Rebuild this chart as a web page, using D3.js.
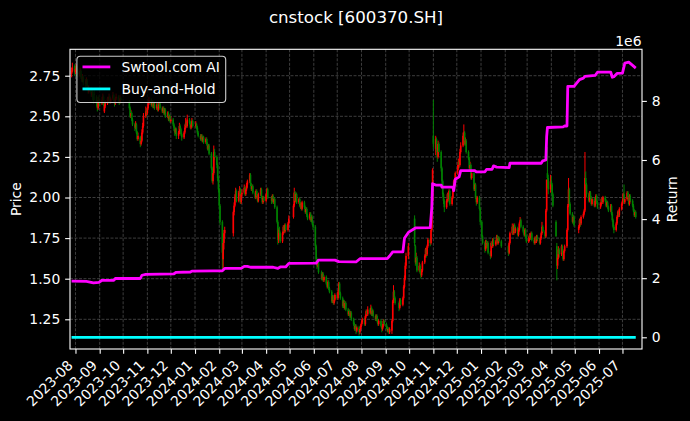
<!DOCTYPE html>
<html><head><meta charset="utf-8">
<script src="https://cdn.jsdelivr.net/npm/d3@7"></script>
<style>
body{margin:0;background:#000;}
svg{display:block;font-family:"DejaVu Sans",sans-serif;}
</style>
</head><body>
<svg id="c" width="690" height="421"></svg>
<script>
// ---------------- DATA ----------------
const chartTitle = "cnstock [600370.SH]";
const seriesNames = ["Swtool.com AI", "Buy-and-Hold"];
const firstDay = "2023-07-27", lastDay = "2025-07-18";
const holidays = ["2023-09-29","2023-10-02","2023-10-03","2023-10-04","2023-10-05","2023-10-06",
 "2024-01-01","2024-02-09","2024-02-12","2024-02-13","2024-02-14","2024-02-15","2024-02-16",
 "2024-04-04","2024-04-05","2024-05-01","2024-05-02","2024-05-03","2024-06-10","2024-09-16","2024-09-17",
 "2024-10-01","2024-10-02","2024-10-03","2024-10-04","2024-10-07",
 "2025-01-01","2025-01-28","2025-01-29","2025-01-30","2025-01-31","2025-02-03","2025-02-04",
 "2025-04-04","2025-05-01","2025-05-02","2025-05-05","2025-06-02"];
// daily [open, high, low, close], one row per trading day
const ohlc = [
[2.76,2.80,2.74,2.78],[2.78,2.83,2.77,2.80],[2.81,2.82,2.75,2.77],
[2.77,2.81,2.76,2.79],[2.79,2.82,2.77,2.80],[2.80,2.81,2.75,2.77],[2.77,2.79,2.74,2.76],[2.75,2.80,2.74,2.78],
[2.78,2.79,2.73,2.75],[2.75,2.76,2.71,2.73],[2.72,2.76,2.71,2.74],[2.74,2.75,2.69,2.71],[2.71,2.73,2.68,2.70],
[2.70,2.74,2.69,2.72],[2.72,2.73,2.66,2.68],[2.68,2.69,2.64,2.66],[2.65,2.69,2.64,2.67],[2.67,2.68,2.62,2.64],
[2.63,2.67,2.62,2.65],[2.65,2.66,2.60,2.62],[2.62,2.63,2.58,2.60],[2.64,2.66,2.60,2.63],[2.62,2.63,2.56,2.58],
[2.58,2.59,2.53,2.55],[2.55,2.62,2.54,2.60],[2.60,2.63,2.57,2.59],
[2.59,2.61,2.56,2.58],[2.58,2.62,2.57,2.60],[2.60,2.64,2.59,2.62],[2.62,2.63,2.56,2.57],[2.53,2.58,2.52,2.56],
[2.56,2.60,2.55,2.58],[2.58,2.62,2.57,2.61],[2.61,2.62,2.58,2.60],[2.60,2.64,2.59,2.62],[2.62,2.63,2.58,2.59],
[2.59,2.62,2.58,2.61],[2.61,2.65,2.60,2.63],[2.63,2.64,2.59,2.60],[2.60,2.61,2.56,2.58],[2.58,2.62,2.57,2.61],
[2.61,2.64,2.60,2.62],[2.62,2.63,2.59,2.60],[2.60,2.61,2.57,2.59],[2.59,2.63,2.58,2.61],[2.61,2.62,2.58,2.60],
[2.59,2.60,2.54,2.55],[2.55,2.56,2.49,2.50],[2.50,2.54,2.49,2.52],[2.52,2.53,2.47,2.48],[2.48,2.49,2.44,2.45],
[2.45,2.46,2.41,2.43],[2.43,2.47,2.42,2.45],[2.45,2.46,2.39,2.40],[2.40,2.41,2.35,2.36],[2.36,2.40,2.35,2.38],
[2.37,2.38,2.31,2.33],[2.33,2.37,2.32,2.35],[2.35,2.42,2.34,2.40],[2.40,2.46,2.39,2.44],[2.44,2.52,2.43,2.50],
[2.50,2.56,2.49,2.53],[2.53,2.55,2.50,2.52],
[2.52,2.56,2.51,2.55],[2.55,2.59,2.54,2.58],[2.58,2.62,2.57,2.60],[2.60,2.61,2.56,2.57],[2.57,2.60,2.56,2.59],
[2.59,2.60,2.55,2.56],[2.56,2.59,2.55,2.58],[2.58,2.59,2.54,2.55],[2.55,2.58,2.54,2.57],[2.57,2.58,2.53,2.54],
[2.54,2.57,2.53,2.56],[2.56,2.59,2.55,2.58],[2.58,2.59,2.54,2.55],[2.55,2.56,2.52,2.53],[2.53,2.56,2.52,2.55],
[2.55,2.56,2.51,2.52],[2.52,2.55,2.51,2.54],[2.54,2.55,2.49,2.50],[2.50,2.53,2.49,2.52],[2.52,2.53,2.47,2.48],
[2.48,2.51,2.47,2.50],[2.50,2.51,2.46,2.47],
[2.47,2.50,2.46,2.48],[2.48,2.49,2.44,2.45],[2.45,2.46,2.41,2.43],[2.43,2.44,2.38,2.40],[2.40,2.43,2.39,2.42],
[2.42,2.43,2.36,2.38],[2.38,2.41,2.36,2.40],[2.40,2.46,2.39,2.44],[2.44,2.45,2.41,2.42],[2.42,2.43,2.38,2.39],
[2.39,2.40,2.35,2.37],[2.37,2.41,2.36,2.40],[2.40,2.45,2.39,2.43],[2.43,2.49,2.42,2.46],[2.46,2.47,2.43,2.44],
[2.44,2.51,2.43,2.48],[2.48,2.49,2.45,2.46],[2.46,2.47,2.42,2.43],[2.43,2.46,2.42,2.45],[2.45,2.49,2.44,2.47],
[2.47,2.48,2.43,2.44],
[2.44,2.47,2.43,2.45],[2.45,2.46,2.42,2.43],[2.43,2.44,2.39,2.40],[2.40,2.41,2.37,2.38],[2.38,2.39,2.35,2.36],
[2.36,2.39,2.35,2.38],[2.38,2.39,2.34,2.35],[2.35,2.38,2.34,2.37],[2.37,2.38,2.33,2.34],[2.34,2.37,2.33,2.36],
[2.36,2.37,2.32,2.33],[2.33,2.34,2.29,2.30],[2.30,2.33,2.29,2.32],[2.32,2.33,2.26,2.27],[2.27,2.28,2.17,2.18],
[2.18,2.19,2.09,2.10],[2.10,2.17,2.08,2.15],[2.15,2.32,2.14,2.28],[2.28,2.30,2.23,2.25],[2.25,2.26,2.18,2.20],
[2.20,2.21,2.10,2.12],[2.12,2.13,2.03,2.05],
[2.05,2.06,1.93,1.95],[1.95,1.96,1.83,1.85],[1.85,1.86,1.56,1.66],[1.62,1.74,1.56,1.72],[1.72,1.80,1.68,1.78],
[1.78,1.82,1.75,1.80],[1.78,1.92,1.76,1.91],[1.91,1.97,1.89,1.95],[1.95,2.02,1.94,2.00],[2.00,2.06,1.98,2.04],
[2.04,2.05,1.97,1.98],[1.98,2.04,1.97,2.03],[2.03,2.07,2.01,2.05],[2.05,2.06,1.96,1.97],[1.97,2.03,1.96,2.02],
[2.02,2.05,2.00,2.03],[2.03,2.08,2.02,2.06],[2.06,2.07,2.01,2.02],[2.02,2.06,2.01,2.05],[2.05,2.09,2.04,2.08],
[2.08,2.11,2.06,2.10],[2.10,2.15,2.09,2.14],[2.14,2.15,2.07,2.08],[2.08,2.09,2.04,2.05],[2.05,2.08,2.04,2.07],
[2.07,2.08,2.02,2.03],[2.03,2.04,1.99,2.00],[2.00,2.05,1.99,2.04],[2.04,2.05,2.00,2.01],[2.01,2.02,1.97,1.98],
[1.98,2.03,1.97,2.02],[2.02,2.06,2.01,2.05],[2.05,2.06,1.99,2.00],[2.00,2.01,1.96,1.97],[1.97,2.01,1.96,2.00],
[2.00,2.01,1.97,1.98],
[1.98,2.03,1.97,2.02],[2.02,2.06,2.01,2.05],[2.05,2.06,1.99,2.00],[2.00,2.01,1.96,1.98],[1.98,2.02,1.97,2.01],
[2.01,2.02,1.96,1.97],[1.97,2.00,1.96,1.99],[1.99,2.00,1.93,1.94],[1.94,1.95,1.84,1.85],[1.85,1.86,1.71,1.74],
[1.74,1.81,1.72,1.80],[1.80,1.82,1.76,1.78],[1.78,1.79,1.72,1.73],[1.73,1.79,1.72,1.78],[1.78,1.83,1.77,1.82],
[1.82,1.83,1.78,1.79],[1.79,1.84,1.78,1.83],[1.83,1.84,1.79,1.80],[1.80,1.85,1.79,1.84],[1.84,1.89,1.83,1.87],
[1.88,1.96,1.87,1.95],[1.95,2.06,1.94,2.03],[2.03,2.04,1.97,1.98],[1.98,2.03,1.97,2.02],[2.02,2.03,1.96,1.97],
[1.97,2.00,1.96,1.99],[1.99,2.00,1.94,1.95],[1.95,1.97,1.93,1.96],[1.96,1.97,1.92,1.93],[1.93,1.98,1.92,1.97],
[1.97,1.98,1.93,1.94],[1.94,1.95,1.90,1.91],[1.91,1.94,1.90,1.93],[1.93,1.94,1.88,1.89],[1.89,1.90,1.86,1.87],
[1.87,1.91,1.86,1.90],[1.90,1.91,1.85,1.86],[1.86,1.89,1.85,1.88],[1.88,1.89,1.83,1.84],[1.84,1.85,1.80,1.82],
[1.82,1.83,1.68,1.70],[1.70,1.71,1.60,1.62],[1.62,1.63,1.56,1.58],[1.58,1.62,1.57,1.60],[1.60,1.61,1.53,1.54],
[1.54,1.55,1.49,1.50],[1.50,1.54,1.49,1.53],[1.53,1.54,1.48,1.49],[1.49,1.52,1.48,1.51],[1.51,1.52,1.46,1.47],
[1.47,1.48,1.44,1.45],[1.45,1.49,1.44,1.48],[1.48,1.49,1.43,1.44],[1.44,1.45,1.41,1.42],[1.42,1.43,1.35,1.36],
[1.36,1.40,1.35,1.39],[1.39,1.40,1.34,1.35],[1.35,1.38,1.34,1.37],[1.37,1.41,1.36,1.40],
[1.40,1.41,1.37,1.38],[1.38,1.43,1.37,1.42],[1.42,1.48,1.41,1.47],[1.47,1.48,1.40,1.41],[1.41,1.42,1.37,1.38],
[1.38,1.39,1.32,1.33],[1.33,1.37,1.32,1.36],[1.36,1.37,1.31,1.32],[1.32,1.36,1.31,1.35],[1.35,1.36,1.30,1.31],
[1.31,1.32,1.27,1.28],[1.28,1.31,1.27,1.30],[1.30,1.31,1.26,1.27],[1.27,1.30,1.26,1.29],[1.29,1.30,1.24,1.25],
[1.25,1.26,1.21,1.22],[1.22,1.23,1.18,1.19],[1.19,1.22,1.18,1.21],[1.21,1.22,1.16,1.18],[1.18,1.21,1.17,1.20],
[1.20,1.21,1.15,1.17],[1.17,1.20,1.16,1.19],[1.19,1.22,1.18,1.21],
[1.21,1.24,1.20,1.23],[1.23,1.26,1.22,1.25],[1.25,1.26,1.21,1.22],[1.22,1.28,1.21,1.27],[1.27,1.31,1.26,1.30],
[1.30,1.31,1.27,1.28],[1.28,1.33,1.27,1.31],[1.31,1.32,1.28,1.29],[1.29,1.34,1.28,1.32],[1.32,1.33,1.27,1.28],
[1.28,1.31,1.27,1.30],[1.30,1.31,1.26,1.27],[1.27,1.28,1.24,1.25],[1.25,1.28,1.24,1.27],[1.27,1.28,1.23,1.24],
[1.24,1.25,1.21,1.22],[1.22,1.25,1.21,1.24],[1.24,1.25,1.20,1.21],[1.21,1.22,1.17,1.19],[1.19,1.22,1.18,1.21],
[1.21,1.25,1.20,1.24],[1.24,1.25,1.21,1.22],
[1.22,1.23,1.19,1.20],[1.20,1.21,1.17,1.18],[1.18,1.20,1.17,1.19],[1.19,1.20,1.16,1.17],[1.17,1.20,1.16,1.19],
[1.18,1.25,1.16,1.24],[1.24,1.37,1.23,1.36],[1.36,1.46,1.35,1.42],[1.42,1.43,1.37,1.38],[1.38,1.39,1.34,1.35],
[1.35,1.36,1.30,1.32],[1.32,1.38,1.31,1.37],[1.37,1.38,1.33,1.34],[1.34,1.39,1.33,1.38],[1.38,1.46,1.37,1.45],
[1.45,1.52,1.44,1.50],[1.50,1.60,1.49,1.58],[1.58,1.66,1.56,1.64],[1.64,1.72,1.62,1.70],
[1.87,1.89,1.70,1.72],[1.70,1.71,1.58,1.60],[1.60,1.66,1.59,1.63],[1.63,1.64,1.54,1.55],[1.55,1.60,1.54,1.58],
[1.58,1.59,1.53,1.54],[1.54,1.55,1.50,1.52],[1.52,1.56,1.51,1.55],[1.55,1.61,1.54,1.60],[1.60,1.65,1.59,1.64],
[1.64,1.69,1.63,1.68],[1.68,1.69,1.63,1.65],[1.65,1.71,1.64,1.70],[1.70,1.75,1.69,1.74],[1.74,1.75,1.70,1.72],
[1.72,1.81,1.71,1.80],[1.80,1.98,1.79,1.98],[1.98,2.18,1.97,2.17],
[2.38,2.60,2.30,2.33],[2.30,2.38,2.26,2.36],[2.36,2.37,2.28,2.30],[2.30,2.31,2.22,2.25],[2.25,2.35,2.24,2.33],
[2.33,2.34,2.26,2.28],[2.28,2.29,2.16,2.18],[2.18,2.19,2.08,2.10],[2.10,2.11,2.00,2.02],[2.02,2.03,1.96,1.98],
[1.98,1.99,1.91,1.94],[1.94,1.99,1.93,1.98],[1.98,2.03,1.97,2.02],[2.02,2.03,1.97,1.99],[1.99,2.05,1.98,2.04],
[2.04,2.05,1.95,1.96],[1.96,2.01,1.95,2.00],[2.00,2.06,1.99,2.05],[2.05,2.11,2.04,2.10],[2.10,2.11,2.06,2.08],
[2.08,2.16,2.07,2.15],
[2.15,2.20,2.14,2.18],[2.18,2.24,2.17,2.22],[2.22,2.23,2.18,2.20],[2.20,2.30,2.19,2.28],[2.28,2.34,2.27,2.32],
[2.32,2.40,2.31,2.38],[2.38,2.45,2.36,2.40],[2.40,2.41,2.32,2.33],[2.33,2.37,2.32,2.35],[2.35,2.36,2.27,2.28],
[2.28,2.29,2.23,2.24],[2.24,2.25,2.17,2.18],[2.18,2.22,2.17,2.20],[2.20,2.21,2.11,2.12],[2.12,2.17,2.11,2.15],
[2.15,2.16,2.04,2.05],[2.05,2.09,2.04,2.08],[2.08,2.09,1.99,2.00],[2.00,2.01,1.95,1.97],[1.97,2.01,1.96,2.00],
[2.00,2.01,1.92,1.93],[1.93,1.94,1.83,1.85],
[1.85,1.86,1.75,1.76],[1.76,1.77,1.71,1.72],[1.72,1.73,1.66,1.68],[1.68,1.74,1.67,1.73],[1.73,1.74,1.69,1.70],
[1.70,1.73,1.69,1.72],[1.72,1.73,1.65,1.66],[1.66,1.67,1.62,1.64],[1.64,1.73,1.63,1.72],[1.72,1.73,1.69,1.70],
[1.70,1.75,1.69,1.74],[1.74,1.75,1.70,1.71],[1.71,1.74,1.70,1.73],[1.73,1.77,1.72,1.76],[1.76,1.77,1.71,1.72],
[1.72,1.76,1.71,1.75],[1.75,1.76,1.72,1.73],[1.73,1.74,1.69,1.70],
[1.70,1.71,1.64,1.66],[1.66,1.73,1.65,1.72],[1.72,1.79,1.71,1.78],[1.78,1.84,1.77,1.82],[1.82,1.83,1.77,1.78],
[1.78,1.84,1.77,1.83],[1.83,1.84,1.78,1.79],[1.79,1.82,1.78,1.81],[1.81,1.82,1.76,1.77],[1.77,1.81,1.76,1.80],
[1.80,1.85,1.79,1.84],[1.84,1.88,1.83,1.86],[1.86,1.87,1.81,1.82],[1.82,1.83,1.78,1.79],[1.79,1.80,1.76,1.77],
[1.77,1.81,1.76,1.80],[1.80,1.81,1.75,1.76],[1.76,1.77,1.72,1.73],
[1.73,1.76,1.72,1.74],[1.74,1.78,1.73,1.77],[1.77,1.78,1.74,1.75],[1.75,1.79,1.74,1.78],[1.78,1.79,1.73,1.74],
[1.74,1.75,1.71,1.72],[1.72,1.76,1.71,1.75],[1.75,1.76,1.72,1.73],[1.73,1.77,1.72,1.76],[1.76,1.77,1.73,1.74],
[1.74,1.75,1.71,1.72],[1.72,1.76,1.71,1.75],[1.75,1.79,1.74,1.78],[1.78,1.85,1.77,1.82],[1.82,1.83,1.78,1.79],
[1.79,1.80,1.75,1.76],[1.76,1.93,1.75,1.92],[1.92,2.11,1.91,2.11],[2.15,2.31,2.06,2.12],[2.12,2.14,2.02,2.05],
[2.05,2.14,2.03,2.10],
[2.10,2.13,2.04,2.08],[2.08,2.09,2.00,2.02],[2.02,2.03,1.94,1.95],[1.85,1.86,1.76,1.76],[1.70,1.72,1.49,1.58],
[1.58,1.65,1.56,1.63],[1.63,1.70,1.62,1.68],[1.68,1.69,1.63,1.65],[1.65,1.71,1.64,1.70],[1.70,1.71,1.65,1.66],
[1.66,1.67,1.61,1.62],[1.62,1.68,1.61,1.67],[1.67,1.71,1.66,1.70],[1.70,1.81,1.69,1.80],[1.80,1.96,1.79,1.95],
[1.95,2.12,1.94,2.05],[2.05,2.06,1.95,1.96],[1.96,1.97,1.89,1.90],[1.90,1.91,1.84,1.85],[1.85,1.89,1.84,1.88],
[1.88,1.89,1.82,1.83],
[1.80,1.83,1.78,1.82],[1.82,1.87,1.81,1.86],[1.86,1.87,1.82,1.84],[1.84,1.89,1.83,1.88],[1.88,1.91,1.87,1.90],
[1.90,1.93,1.89,1.92],[1.92,2.28,1.91,2.12],[2.12,2.16,2.05,2.08],[2.08,2.09,2.00,2.02],[2.02,2.03,1.97,1.98],
[1.98,2.04,1.97,2.03],[2.03,2.04,1.99,2.00],[2.00,2.01,1.95,1.96],[1.96,2.00,1.95,1.99],[1.99,2.00,1.94,1.95],
[1.95,1.99,1.94,1.98],[1.98,2.02,1.97,2.01],[2.01,2.02,1.96,1.97],[1.97,1.98,1.93,1.94],
[1.94,1.97,1.93,1.96],[1.96,2.00,1.95,1.99],[1.99,2.00,1.96,1.97],[1.97,2.01,1.96,2.00],[2.00,2.01,1.97,1.98],
[1.98,1.99,1.94,1.95],[1.95,1.98,1.94,1.97],[1.97,1.98,1.93,1.94],[1.94,1.95,1.91,1.92],[1.92,1.96,1.91,1.95],
[1.95,1.96,1.89,1.90],[1.90,1.91,1.85,1.86],[1.86,1.87,1.81,1.82],[1.82,1.83,1.78,1.80],[1.80,1.85,1.79,1.84],
[1.84,1.89,1.83,1.88],[1.88,1.92,1.87,1.91],[1.91,1.92,1.88,1.89],[1.89,1.94,1.88,1.93],[1.93,1.97,1.92,1.96],
[1.96,1.99,1.95,1.98],[1.98,2.03,1.97,2.02],[2.02,2.08,1.96,1.97],[1.97,2.00,1.96,1.99],[1.99,2.04,1.98,2.03],
[2.03,2.04,1.99,2.00],[2.00,2.01,1.95,1.96],[1.96,2.02,1.95,2.01],[2.01,2.02,1.97,1.98],[1.98,1.99,1.94,1.95],
[1.95,1.96,1.91,1.92],[1.92,1.93,1.88,1.89],[1.89,1.92,1.88,1.91],[1.91,1.92,1.87,1.88]
];
const equityDates = ["2023-07-27","2023-08-15","2023-08-24","2023-08-31","2023-09-04","2023-09-19","2023-09-21",
 "2023-10-23","2023-10-25","2023-10-30","2023-12-05","2023-12-08","2023-12-26","2023-12-28","2024-01-24",
 "2024-02-05","2024-02-07","2024-02-08","2024-02-29","2024-03-04","2024-03-08","2024-03-12","2024-04-10",
 "2024-04-16","2024-04-19","2024-04-26","2024-04-30","2024-06-04","2024-06-07","2024-06-28","2024-07-03",
 "2024-07-25","2024-07-30","2024-09-03","2024-09-06","2024-09-10","2024-09-23","2024-09-25","2024-09-30",
 "2024-10-09","2024-10-28","2024-10-30","2024-10-31","2024-11-04","2024-11-11","2024-11-12","2024-11-26",
 "2024-11-27","2024-11-29","2024-12-04","2024-12-06","2024-12-24","2024-12-26","2025-01-06","2025-01-08",
 "2025-01-15","2025-01-17","2025-01-21","2025-02-06","2025-02-07","2025-03-19","2025-03-21","2025-03-25",
 "2025-03-26","2025-03-27","2025-04-16","2025-04-18","2025-04-21","2025-04-22","2025-04-30","2025-05-07",
 "2025-05-12","2025-05-14","2025-05-27","2025-05-30","2025-06-16","2025-06-18","2025-06-20","2025-06-24",
 "2025-07-01","2025-07-04","2025-07-09","2025-07-14","2025-07-18"];
const equityValues = [1.90e6,1.89e6,1.84e6,1.86e6,1.93e6,1.93e6,1.99e6,
 1.99e6,2.10e6,2.13e6,2.15e6,2.20e6,2.21e6,2.24e6,2.25e6,
 2.25e6,2.30e6,2.33e6,2.33e6,2.40e6,2.40e6,2.37e6,2.37e6,
 2.33e6,2.38e6,2.38e6,2.50e6,2.51e6,2.61e6,2.61e6,2.56e6,
 2.55e6,2.66e6,2.66e6,2.75e6,2.89e6,2.89e6,3.35e6,3.55e6,
 3.70e6,3.71e6,4.40e6,5.20e6,5.15e6,5.15e6,5.08e6,5.08e6,
 4.96e6,5.35e6,5.43e6,5.64e6,5.64e6,5.60e6,5.60e6,5.68e6,
 5.68e6,5.80e6,5.76e6,5.74e6,5.89e6,5.89e6,5.97e6,6.00e6,
 6.80e6,7.10e6,7.12e6,7.15e6,7.15e6,8.49e6,8.49e6,8.72e6,
 8.77e6,8.83e6,8.86e6,8.97e6,8.97e6,8.80e6,8.82e6,8.93e6,
 8.94e6,9.28e6,9.31e6,9.20e6,9.11e6];
const holdDates = ["2023-07-27","2025-07-18"];
const holdValues = [0, 0];
const priceTicks = [1.25,1.50,1.75,2.00,2.25,2.50,2.75];
const returnTicks = [0,2e6,4e6,6e6,8e6];

// ---------------- LAYOUT ----------------
const L = 70, R = 642, T = 49.3, B = 349;
const FS = 13.9;
const parse = d3.utcParse("%Y-%m-%d");
const fmtDay = d3.utcFormat("%Y-%m-%d");
const hol = new Set(holidays);
const dates = [];
for (let d = parse(firstDay); d <= parse(lastDay); d = d3.utcDay.offset(d, 1)) {
  const wd = d.getUTCDay();
  if (wd !== 0 && wd !== 6 && !hol.has(fmtDay(d))) dates.push(d);
}
const candles = ohlc.slice(0, dates.length).map((r, i) => ({date: dates[i], o: r[0], h: r[1], l: r[2], c: r[3]}));

const x = d3.scaleUtc().domain([parse("2023-07-25"), parse("2025-07-26")]).range([L, R]);
const yP = d3.scaleLinear().domain([1.0671, 2.9126]).range([B, T]);
const yR = d3.scaleLinear().domain([-0.396e6, 9.746e6]).range([B, T]);
const months = d3.utcMonth.range(parse("2023-08-01"), parse("2025-07-02"));

const svg = d3.select("#c");
svg.append("rect").attr("width", 690).attr("height", 421).attr("fill", "#000");
svg.append("clipPath").attr("id", "clip").append("rect").attr("x", L).attr("y", T).attr("width", R - L).attr("height", B - T);

// grid
const grid = svg.append("g").attr("stroke", "#fff").attr("stroke-opacity", 0.3).attr("stroke-width", 0.8).attr("stroke-dasharray", "3,1.5");
grid.selectAll("line.v").data(months).join("line").attr("x1", d => x(d)).attr("x2", d => x(d)).attr("y1", T).attr("y2", B);
grid.selectAll("line.h").data(priceTicks).join("line").attr("y1", d => yP(d)).attr("y2", d => yP(d)).attr("x1", L).attr("x2", R);

// candles
const cg = svg.append("g").attr("clip-path", "url(#clip)");
const col = d => d.c >= d.o ? "#ff0000" : "#008000";
cg.selectAll("line.w").data(candles).join("line")
  .attr("x1", d => x(d.date)).attr("x2", d => x(d.date))
  .attr("y1", d => yP(d.h)).attr("y2", d => yP(d.l))
  .attr("stroke", col).attr("stroke-width", 1.0);
cg.selectAll("rect.b").data(candles).join("rect")
  .attr("x", d => x(d.date) - 0.8).attr("width", 1.6)
  .attr("y", d => yP(Math.max(d.o, d.c)))
  .attr("height", d => Math.max(0.6, Math.abs(yP(d.o) - yP(d.c))))
  .attr("fill", col);

// return lines
const lineGen = d3.line().x(d => x(d[0])).y(d => yR(d[1]));
svg.append("path").datum(holdDates.map((d, i) => [parse(d), holdValues[i]]))
  .attr("d", lineGen).attr("fill", "none").attr("stroke", "#00ffff").attr("stroke-width", 2.78);
svg.append("path").datum(equityDates.map((d, i) => [parse(d), equityValues[i]]))
  .attr("d", lineGen).attr("fill", "none").attr("stroke", "#ff00ff").attr("stroke-width", 2.78)
  .attr("stroke-linejoin", "round").attr("stroke-linecap", "butt");

// axes
function styleAxis(g) {
  g.select(".domain").remove();
  g.selectAll(".tick line").attr("stroke", "#fff").attr("stroke-width", 1.1);
  g.selectAll(".tick text").attr("fill", "#fff").style("font-size", FS + "px").style("font-family", "DejaVu Sans");
}
svg.append("g").attr("transform", `translate(${L},0)`)
  .call(d3.axisLeft(yP).tickValues(priceTicks).tickFormat(d3.format(".2f")).tickSize(4.86).tickPadding(4.86))
  .call(styleAxis);
svg.append("g").attr("transform", `translate(${R},0)`)
  .call(d3.axisRight(yR).tickValues(returnTicks).tickFormat(d => d3.format("d")(d / 1e6)).tickSize(4.86).tickPadding(4.86))
  .call(styleAxis);
const xa = svg.append("g").attr("transform", `translate(0,${B})`)
  .call(d3.axisBottom(x).tickValues(months).tickFormat(d3.utcFormat("%Y-%m")).tickSize(4.86).tickPadding(4.86))
  .call(styleAxis);
xa.selectAll(".tick text").attr("text-anchor", "end").attr("x", -2.3).attr("y", 17.2).attr("dy", null)
  .attr("transform", "rotate(-45 -2.3 17.2)");

// spines
svg.append("rect").attr("x", L).attr("y", T).attr("width", R - L).attr("height", B - T)
  .attr("fill", "none").attr("stroke", "#fff").attr("stroke-width", 1.1);

// labels
svg.append("text").attr("x", (L + R) / 2).attr("y", 22.5).attr("text-anchor", "middle")
  .attr("fill", "#fff").style("font-size", "16.67px").text(chartTitle);
svg.append("text").attr("transform", `translate(21,${(T + B) / 2}) rotate(-90)`).attr("text-anchor", "middle")
  .attr("fill", "#fff").style("font-size", FS + "px").text("Price");
svg.append("text").attr("transform", `translate(677,${(T + B) / 2}) rotate(-90)`).attr("text-anchor", "middle")
  .attr("fill", "#fff").style("font-size", FS + "px").text("Return");
svg.append("text").attr("x", R - 0.5).attr("y", 45.5).attr("text-anchor", "end")
  .attr("fill", "#fff").style("font-size", FS + "px").text("1e6");

// legend
const lg = svg.append("g");
lg.append("rect").attr("x", 76.9).attr("y", 56.2).attr("width", 148.8).attr("height", 46.3).attr("rx", 3.5)
  .attr("fill", "#000").attr("fill-opacity", 0.8).attr("stroke", "#cccccc").attr("stroke-width", 1.1);
const legColors = ["#ff00ff", "#00ffff"];
seriesNames.forEach((name, i) => {
  const cy = 66.9 + i * 22;
  lg.append("line").attr("x1", 82.5).attr("x2", 110.3).attr("y1", cy).attr("y2", cy)
    .attr("stroke", legColors[i]).attr("stroke-width", 2.78);
  lg.append("text").attr("x", 121.4).attr("y", cy + 5.3).attr("fill", "#fff")
    .style("font-size", FS + "px").text(name);
});
</script>
</body></html>
